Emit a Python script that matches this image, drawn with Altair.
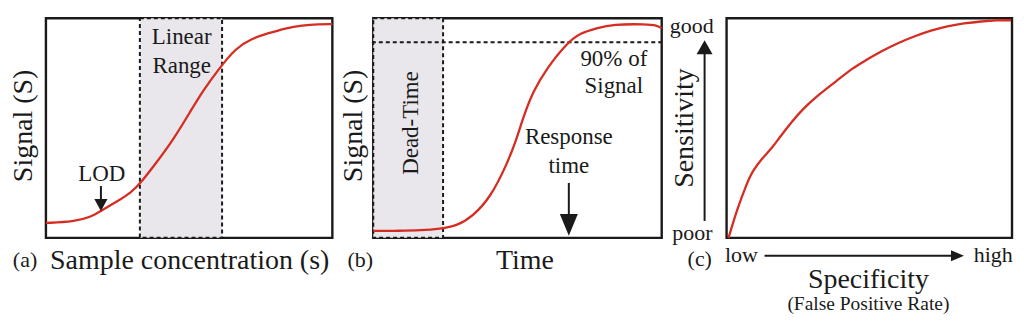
import altair as alt
import pandas as pd

FONT = "Liberation Serif"
RED = "#d52d22"
SHADE = "#e9e7eb"
INK = "#1a1a1a"

# ---------------- Panel (a): calibration curve ----------------
A_X = [0, 9.8, 15.7, 19.2, 25.1, 29.6, 33.1, 39.0, 44.6, 50.5, 54.7, 60.3, 66.2, 72.1, 77.7, 83.6, 89.5, 95.1, 100]
A_Y = [6.8, 7.3, 9.5, 12.3, 16.8, 20.5, 25.0, 35.0, 45.0, 57.7, 66.8, 76.8, 86.4, 90.9, 93.2, 95.5, 96.8, 97.3, 97.3]
A_LINEAR = [32.8, 61.5]          # linear range (x from, x to)
A_LOD = 19.2                     # LOD position

# ---------------- Panel (b): time response ----------------
B_X = [0, 9.3, 16.3, 23.2, 29.1, 34.6, 40.5, 46.4, 49.8, 51.9, 55.4, 60.2, 67.1, 71.6, 77.5, 83.0, 94.8, 98.3, 100]
B_Y = [3.2, 3.2, 3.4, 4.1, 5.5, 10.0, 18.2, 33.6, 45.5, 54.5, 66.8, 77.3, 88.6, 93.2, 95.5, 97.3, 97.3, 96.8, 95.5]
B_DEAD = [0, 24.2]               # dead-time (x from, x to)
B_NINETY = 89.1                  # 90 % of signal level
B_RESPONSE = 67.8                # response time

# ---------------- Panel (c): ROC-like curve ----------------
C_X = [0.7, 3.5, 7.0, 9.1, 12.6, 16.1, 18.5, 23.1, 26.6, 32.5, 38.5, 44.1, 48.3, 54.2, 59.8, 65.7, 71.7, 77.3, 83.2, 89.2, 94.8, 99.7]
C_Y = [0, 12.3, 24.5, 30.5, 36.4, 41.2, 45.6, 53.2, 58.6, 65.5, 71.4, 77.3, 80.5, 85.0, 88.6, 91.8, 94.5, 96.4, 97.7, 98.6, 99.1, 99.1]

W_A, W_B, W_C, H = 287, 289, 286, 220
GAP_AB, GAP_BC = 41, 65


def X(f):
    return alt.X(f, type="quantitative", axis=None,
                 scale=alt.Scale(domain=[0, 100], nice=False, zero=False))


def Y(f):
    return alt.Y(f, type="quantitative", axis=None,
                 scale=alt.Scale(domain=[0, 100], nice=False, zero=False))


def box():
    df = pd.DataFrame({"x": [0], "x2": [100], "y": [0], "y2": [100]})
    return alt.Chart(df).mark_rect(fillOpacity=0, stroke=INK, strokeWidth=2.4).encode(
        x=X("x"), x2="x2", y=Y("y"), y2="y2")


def shade(x0, x1):
    df = pd.DataFrame({"x": [x0], "x2": [x1], "y": [0], "y2": [100]})
    return alt.Chart(df).mark_rect(fill=SHADE, stroke=INK, strokeWidth=2,
                                   strokeDash=[4, 3]).encode(
        x=X("x"), x2="x2", y=Y("y"), y2="y2")


def curve(xs, ys):
    df = pd.DataFrame({"x": xs, "y": ys})
    return alt.Chart(df).mark_line(color=RED, strokeWidth=2.3,
                                   interpolate="basis").encode(x=X("x"), y=Y("y"))


def text(rows, size, **kw):
    df = pd.DataFrame(rows, columns=["x", "y", "t"])
    opts = dict(font=FONT, fontSize=size, color=INK, baseline="alphabetic", align="center")
    opts.update(kw)
    return alt.Chart(df).mark_text(**opts).encode(x=X("x"), y=Y("y"), text="t:N")


def seg(x, y, x2, y2, **kw):
    df = pd.DataFrame({"x": [x], "y": [y], "x2": [x2], "y2": [y2]})
    opts = dict(color=INK, strokeWidth=2)
    opts.update(kw)
    return alt.Chart(df).mark_rule(**opts).encode(x=X("x"), y=Y("y"), x2="x2", y2="y2")


def head(x, y, shape, size):
    df = pd.DataFrame({"x": [x], "y": [y]})
    return alt.Chart(df).mark_point(shape=shape, size=size, filled=True, fill=INK,
                                    opacity=1, strokeWidth=0).encode(x=X("x"), y=Y("y"))


def spacer(w):
    df = pd.DataFrame({"x": [50], "y": [50]})
    return alt.Chart(df).mark_point(opacity=0).encode(x=X("x"), y=Y("y")).properties(width=w, height=H)


DOWN = "M-1.1,-1L1.1,-1L0,1Z"
DOWN_WIDE = "M-0.82,-1L0.82,-1L0,1Z"
UP = "M-1.14,1L1.14,1L0,-1Z"
RIGHT = "M-1,-0.85L1,0L-1,0.85Z"

# invisible anchor fixing the top-left corner of the page
anchor = seg(-12.9, 104.1, -12.9, 104.1, strokeOpacity=0, strokeWidth=1)

panel_a = alt.layer(
    anchor,
    box(),
    shade(*A_LINEAR),
    curve(A_X, A_Y),
    text([[47.4, 88.2, "Linear"], [47.4, 75.0, "Range"]], 23),
    text([[A_LOD + 0.3, 25.9, "LOD"]], 23),
    seg(A_LOD, 23.6, A_LOD, 16.8),
    head(A_LOD, 15.0, DOWN, 144),
    text([[-7.6, 51.0, "Signal (S)"]], 28, angle=270, baseline="middle"),
    text([[-7.3, -13.2, "(a)"]], 22),
    text([[50.2, -14.1, "Sample concentration (s)"]], 28),
).properties(width=W_A, height=H)

panel_b = alt.layer(
    box(),
    shade(*B_DEAD),
    seg(-0.5, B_NINETY, 100, B_NINETY, strokeDash=[4, 3]),
    curve(B_X, B_Y),
    text([[83.4, 78.2, "90% of"], [83.4, 65.9, "Signal"]], 23),
    text([[B_RESPONSE, 42.7, "Response"], [B_RESPONSE, 29.5, "time"]], 23),
    seg(B_RESPONSE, 25.0, B_RESPONSE, 10.0),
    head(B_RESPONSE, 5.9, DOWN_WIDE, 484),
    text([[13.1, 52.3, "Dead-Time"]], 23, angle=270, baseline="middle"),
    text([[-6.6, 51.0, "Signal (S)"]], 28, angle=270, baseline="middle"),
    text([[-4.5, -13.2, "(b)"]], 22),
    text([[52.6, -14.1, "Time"]], 28),
).properties(width=W_B, height=H)

panel_c = alt.layer(
    box(),
    curve(C_X, C_Y),
    text([[-4.5, 93.2, "good"], [-4.9, -0.9, "poor"]], 22, align="right"),
    seg(-7.7, 7.7, -7.7, 85.0),
    head(-7.7, 86.8, UP, 196),
    text([[-14.7, 50.0, "Sensitivity"]], 28, angle=270, baseline="middle"),
    text([[5.2, -10.9, "low"], [93.4, -10.9, "high"]], 22),
    seg(13.3, -8.2, 79.7, -8.2),
    head(80.9, -8.2, RIGHT, 169),
    text([[-9.4, -12.7, "(c)"]], 22),
    text([[49.7, -22.7, "Specificity"]], 28),
    text([[49.7, -32.7, "(False Positive Rate)"]], 19.5),
).properties(width=W_C, height=H)

chart = alt.hconcat(
    panel_a, spacer(GAP_AB), panel_b, spacer(GAP_BC), panel_c,
    spacing=0, bounds="flush",
).properties(padding=0, background="white").configure_view(stroke=None)

chart.save("out.html", embed_options={"renderer": "svg", "actions": False})
